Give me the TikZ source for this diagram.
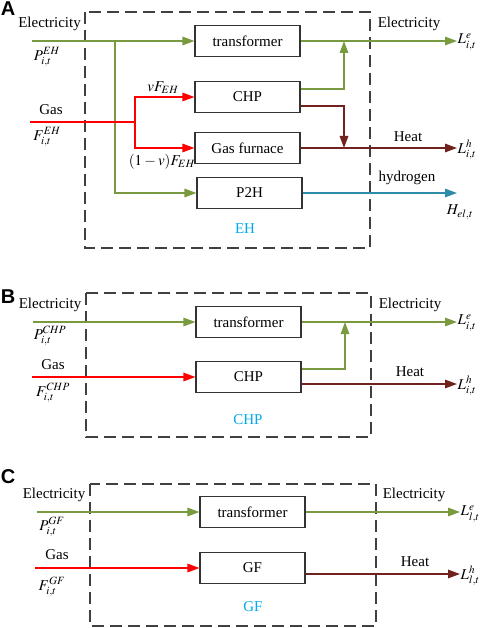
\documentclass[tikz,border=0pt]{standalone}
\usepackage{mathptmx}
\usepackage{fontspec}
\setmainfont{Liberation Serif}
\newfontfamily\panelfont{Liberation Sans}
\usetikzlibrary{arrows.meta}
\definecolor{elecgreen}{RGB}{122,154,64}
\definecolor{gasred}{RGB}{255,0,0}
\definecolor{heatbrown}{RGB}{112,34,30}
\definecolor{hydteal}{RGB}{45,140,170}
\definecolor{hubcyan}{RGB}{0,170,235}
\tikzset{
  unitbox/.style={draw=black!80,line width=1.1pt,minimum width=105pt,minimum height=31pt,inner sep=0pt},
  flow/.style={line width=1.4pt,-{Triangle[length=12pt,width=8.5pt]}},
  elecline/.style={flow,draw=elecgreen},
  gasline/.style={flow,draw=gasred},
  heatline/.style={flow,draw=heatbrown},
  h2line/.style={flow,draw=hydteal},
  dashbox/.style={draw=black!75,line width=1.1pt,dash pattern=on 12pt off 6pt},
  hublabel/.style={text=hubcyan},
  panellabel/.style={font=\panelfont\fontsize{20}{20}\selectfont\bfseries,inner sep=0pt},
  outlabel/.style={anchor=west,inner sep=0.5pt}
}
\begin{document}
\begin{tikzpicture}[x=1pt,y=-1pt,font=\fontsize{15}{18}\selectfont,inner sep=1pt]
\useasboundingbox (0,0) rectangle (484,628);
% ---- A: energy hub
\node[panellabel] (labA) at (8,9) {A};
\draw[dashbox] (85,12) rectangle (370,248);
\node[unitbox] (trA) at (247.5,41) {transformer};
\node[unitbox] (chpA) at (247.5,97) {CHP};
\node[unitbox] (gfA) at (247.5,148) {Gas furnace};
\node[unitbox] (p2hA) at (249.5,193) {P2H};
\node[hublabel] (hubA) at (245,229) {EH};
\coordinate (eA) at (32,41);
\coordinate (bA) at (115,41);
\coordinate (gA) at (30,122);
\coordinate (sA) at (135,122);
\coordinate (jA) at (344,41);
\coordinate (hA) at (344,148);
\node[outlabel] (LeA) at (457,42) {$L_{i,t}^{e}$};
\node[outlabel] (LhA) at (457,150) {$L_{i,t}^{h}$};
\coordinate (HA) at (457,193);
\draw[elecline] (eA) -- (trA.west);
\draw[elecline] (bA) |- (p2hA.west);
\draw[gasline] (gA) -- (sA) |- (chpA.west);
\draw[gasline] (sA) |- (gfA.west);
\draw[elecline] (trA.east) -- (LeA.west |- trA.east);
\draw[elecline] ([yshift=8pt]chpA.east) -| (jA);
\draw[heatline] ([yshift=-9pt]chpA.east) -| (hA);
\draw[heatline] (gfA.east) -- (LhA.west |- gfA.east);
\draw[h2line] (p2hA.east) -- (HA);
\node (ElA) at (49.5,24) {Electricity};
\node (PA) at (47,57) {$P_{i,t}^{EH}$};
\node (GsA) at (51,110) {Gas};
\node (FA) at (47,137) {$F_{i,t}^{EH}$};
\node (vA) at (163,88) {$vF_{EH}$};
\node (wA) at (162,162) {$(1-v)F_{EH}$};
\node (ErA) at (409,24) {Electricity};
\node (HtA) at (408,137) {Heat};
\node (HyA) at (407,178) {hydrogen};
\node (HlA) at (460,212) {$H_{el,t}$};
% ---- B: CHP
\node[panellabel] (labB) at (8,297) {B};
\draw[dashbox] (86,293) rectangle (371,437);
\node[unitbox] (trB) at (248.5,322) {transformer};
\node[unitbox] (chpB) at (248.5,377) {CHP};
\node[hublabel] (hubB) at (248,420) {CHP};
\coordinate (eB) at (33,322);
\coordinate (gB) at (32,377);
\coordinate (jB) at (345,322);
\node[outlabel] (LeB) at (457,323) {$L_{i,t}^{e}$};
\node[outlabel] (LhB) at (457,386) {$L_{i,t}^{h}$};
\draw[elecline] (eB) -- (trB.west);
\draw[gasline] (gB) -- (chpB.west);
\draw[elecline] (trB.east) -- (LeB.west |- trB.east);
\draw[elecline] ([yshift=8pt]chpB.east) -| (jB);
\draw[heatline] ([yshift=-7pt]chpB.east) -- (LhB.west |- 0,384);
\node (ElB) at (50,305) {Electricity};
\node (PB) at (50,336) {$P_{i,t}^{CHP}$};
\node (GsB) at (53,365) {Gas};
\node (FB) at (53,393) {$F_{i,t}^{CHP}$};
\node (ErB) at (410,305) {Electricity};
\node (HtB) at (410,372) {Heat};
% ---- C: gas furnace
\node[panellabel] (labC) at (8,477) {C};
\draw[dashbox] (90,484) rectangle (376,626);
\node[unitbox] (trC) at (252.5,512) {transformer};
\node[unitbox] (gfC) at (252.5,568) {GF};
\node[hublabel] (hubC) at (253,607) {GF};
\coordinate (eC) at (37,512);
\coordinate (gC) at (35,568);
\node[outlabel] (LeC) at (460,514) {$L_{l,t}^{e}$};
\node[outlabel] (LhC) at (460,576) {$L_{l,t}^{h}$};
\draw[elecline] (eC) -- (trC.west);
\draw[gasline] (gC) -- (gfC.west);
\draw[elecline] (trC.east) -- (LeC.west |- trC.east);
\draw[heatline] ([yshift=-6pt]gfC.east) -- (LhC.west |- 0,574);
\node (ElC) at (54,495) {Electricity};
\node (PC) at (52,527) {$P_{i,t}^{GF}$};
\node (GsC) at (57,555) {Gas};
\node (FC) at (52,587) {$F_{i,t}^{GF}$};
\node (ErC) at (414,495) {Electricity};
\node (HtC) at (415,562) {Heat};
\end{tikzpicture}
\end{document}
